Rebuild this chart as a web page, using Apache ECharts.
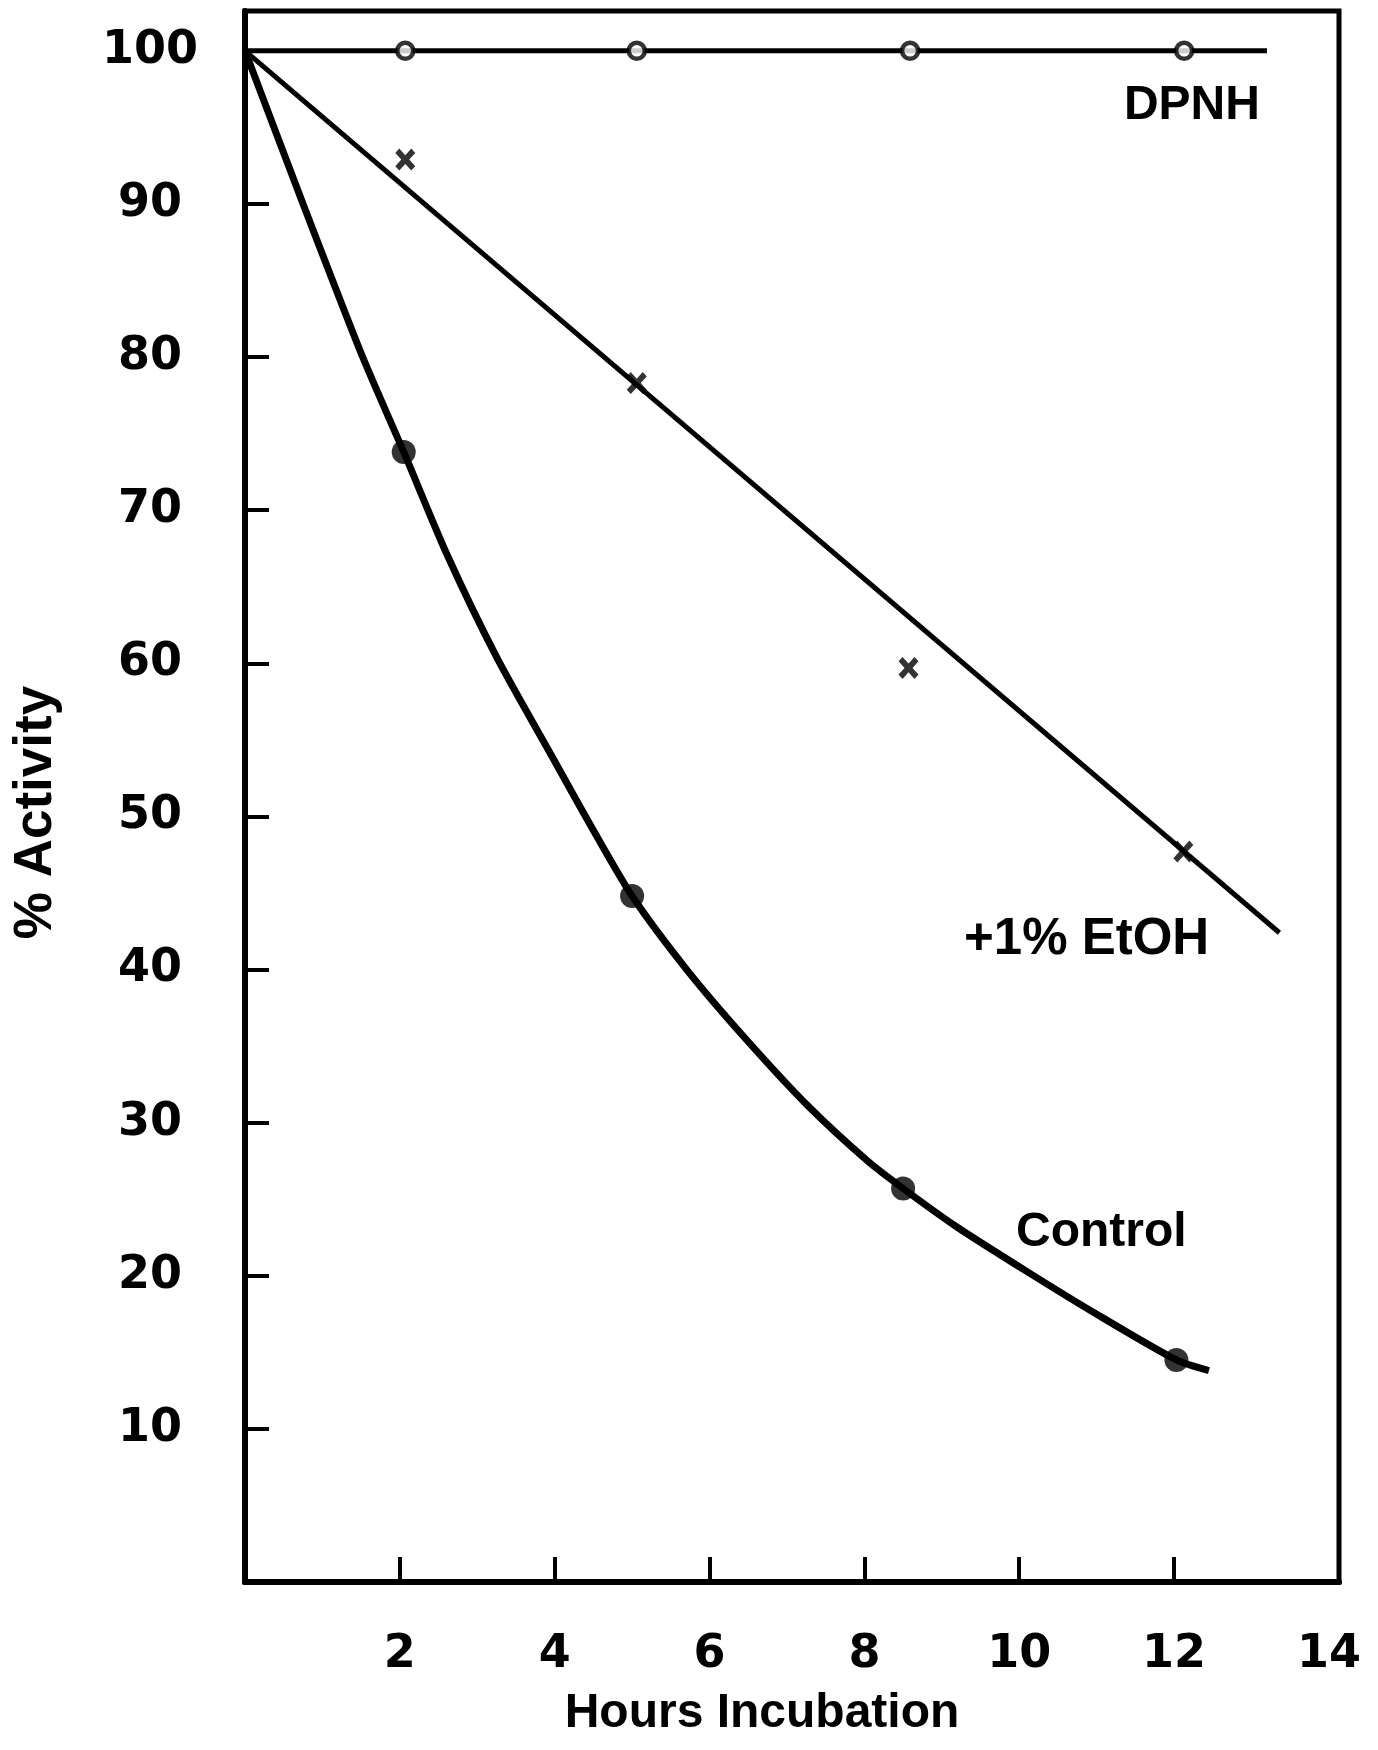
<!DOCTYPE html>
<html>
<head>
<meta charset="utf-8">
<title>% Activity vs Hours Incubation</title>
<script src="https://cdn.jsdelivr.net/npm/echarts@6/dist/echarts.min.js"></script>
<style>
  html, body { margin: 0; padding: 0; background: #fff; }
  #chart { width: 1378px; height: 1750px; }
</style>
</head>
<body>
<div id="chart"></div>
<script>
// values
const dpnhHours = [2.07, 5.06, 8.59, 12.13];
const dpnhActivity = [100, 100, 100, 100];
const dpnhLineHours = [0, 13.2];
const dpnhLineActivity = [100, 100];

const etohHours = [2.07, 5.06, 8.57, 12.12];
const etohActivity = [92.9, 78.3, 59.7, 47.7];
const etohLineHours = [0, 13.36];
const etohLineActivity = [100, 42.4];

const controlHours = [2.05, 5.0, 8.5, 12.03];
const controlActivity = [73.8, 44.8, 25.7, 14.5];
// the hand-drawn curve
const controlCurveHours = [0, 0.75, 1.52, 2.05, 2.6, 3.25, 4.0, 4.42, 5.0, 5.72, 6.48, 7.29, 8.04, 8.5, 9.19, 10.06, 10.93, 12.03, 12.45];
const controlCurveActivity = [100, 90, 80, 73.8, 67.2, 60.4, 53.6, 49.8, 44.8, 39.9, 35.4, 31.0, 27.5, 25.7, 23.2, 20.4, 17.7, 14.5, 13.8];

const xTicks = [2, 4, 6, 8, 10, 12];
const xTickLabels = [2, 4, 6, 8, 10, 12, 14];
const yTicks = [10, 20, 30, 40, 50, 60, 70, 80, 90];
const yTickLabels = [10, 20, 30, 40, 50, 60, 70, 80, 90, 100];

const annotations = [
  { text: "DPNH", at: [12.23, 96.4] },
  { text: "+1% EtOH", at: [10.87, 41.95] },
  { text: "Control", at: [11.06, 22.8] },
];

const pairs = (xs, ys) => xs.map((x, i) => [x, ys[i]]);

const numFont = "DejaVu Sans";
const wordFont = "Liberation Sans";
const crossPath = "path://M0,2 L2,0 L5,3 L8,0 L10,2 L7,5 L10,8 L8,10 L5,7 L2,10 L0,8 L3,5 Z";

const chart = echarts.init(document.getElementById("chart"));

chart.setOption({
  animation: false,
  backgroundColor: "#fff",
  grid: {
    left: 245,
    right: 39,
    top: 11,
    bottom: 168,
    show: true,
    borderColor: "#000",
    borderWidth: 5,
  },
  xAxis: {
    type: "value",
    min: 0,
    max: 14.13,
    interval: 2,
    name: "Hours Incubation",
    nameLocation: "middle",
    nameGap: 108,
    nameTextStyle: {
      fontFamily: wordFont,
      fontWeight: "bold",
      fontSize: 48,
      color: "#000",
      padding: [0, 60, 0, 0],
    },
    splitLine: { show: false },
    axisLine: { lineStyle: { color: "#000", width: 6 } },
    axisTick: {
      inside: true,
      length: 25,
      customValues: xTicks,
      lineStyle: { color: "#000", width: 4 },
    },
    axisLabel: {
      customValues: xTickLabels,
      margin: 50,
      fontFamily: numFont,
      fontWeight: "bold",
      fontSize: 46,
      color: "#000",
    },
  },
  yAxis: {
    type: "value",
    min: 0,
    max: 102.6,
    interval: 10,
    name: "% Activity",
    nameLocation: "middle",
    nameGap: 182,
    nameTextStyle: {
      fontFamily: wordFont,
      fontWeight: "bold",
      fontSize: 53,
      color: "#000",
      padding: [0, 32, 0, 0],
    },
    splitLine: { show: false },
    axisLine: { lineStyle: { color: "#000", width: 6 } },
    axisTick: {
      inside: true,
      length: 24,
      customValues: yTicks,
      lineStyle: { color: "#000", width: 4 },
    },
    axisLabel: {
      customValues: yTickLabels,
      align: "center",
      margin: 95,
      fontFamily: numFont,
      fontWeight: "bold",
      fontSize: 46,
      color: "#000",
    },
  },
  series: [
    {
      name: "DPNH line",
      type: "line",
      data: pairs(dpnhLineHours, dpnhLineActivity),
      showSymbol: false,
      lineStyle: { color: "#000", width: 5 },
      z: 2,
    },
    {
      name: "DPNH",
      type: "scatter",
      data: pairs(dpnhHours, dpnhActivity),
      symbol: "circle",
      symbolSize: 16,
      itemStyle: { color: "#fff", borderColor: "#000", borderWidth: 4.5 },
      z: 5,
    },
    {
      name: "EtOH line",
      type: "line",
      data: pairs(etohLineHours, etohLineActivity),
      showSymbol: false,
      lineStyle: { color: "#000", width: 5 },
      z: 2,
    },
    {
      name: "+1% EtOH",
      type: "scatter",
      data: pairs(etohHours, etohActivity),
      symbol: crossPath,
      symbolSize: [20, 22],
      itemStyle: { color: "#000" },
      z: 5,
    },
    {
      name: "Control line",
      type: "line",
      data: pairs(controlCurveHours, controlCurveActivity),
      smooth: 0.25,
      showSymbol: false,
      lineStyle: { color: "#000", width: 7 },
      z: 2,
    },
    {
      name: "Control",
      type: "scatter",
      data: pairs(controlHours, controlActivity),
      symbol: "circle",
      symbolSize: 24,
      itemStyle: { color: "#000" },
      z: 5,
    },
  ],
});

// curve labels sit next to their lines
chart.setOption({
  graphic: annotations.map((a) => {
    const [px, py] = chart.convertToPixel({ gridIndex: 0 }, a.at);
    return {
      type: "text",
      x: px,
      y: py,
      z: 10,
      style: {
        text: a.text,
        fill: "#000",
        font: `bold ${a.text === "+1% EtOH" ? 51 : 48}px "${wordFont}"`,
        align: "center",
        verticalAlign: "middle",
      },
    };
  }),
});
</script>
</body>
</html>
